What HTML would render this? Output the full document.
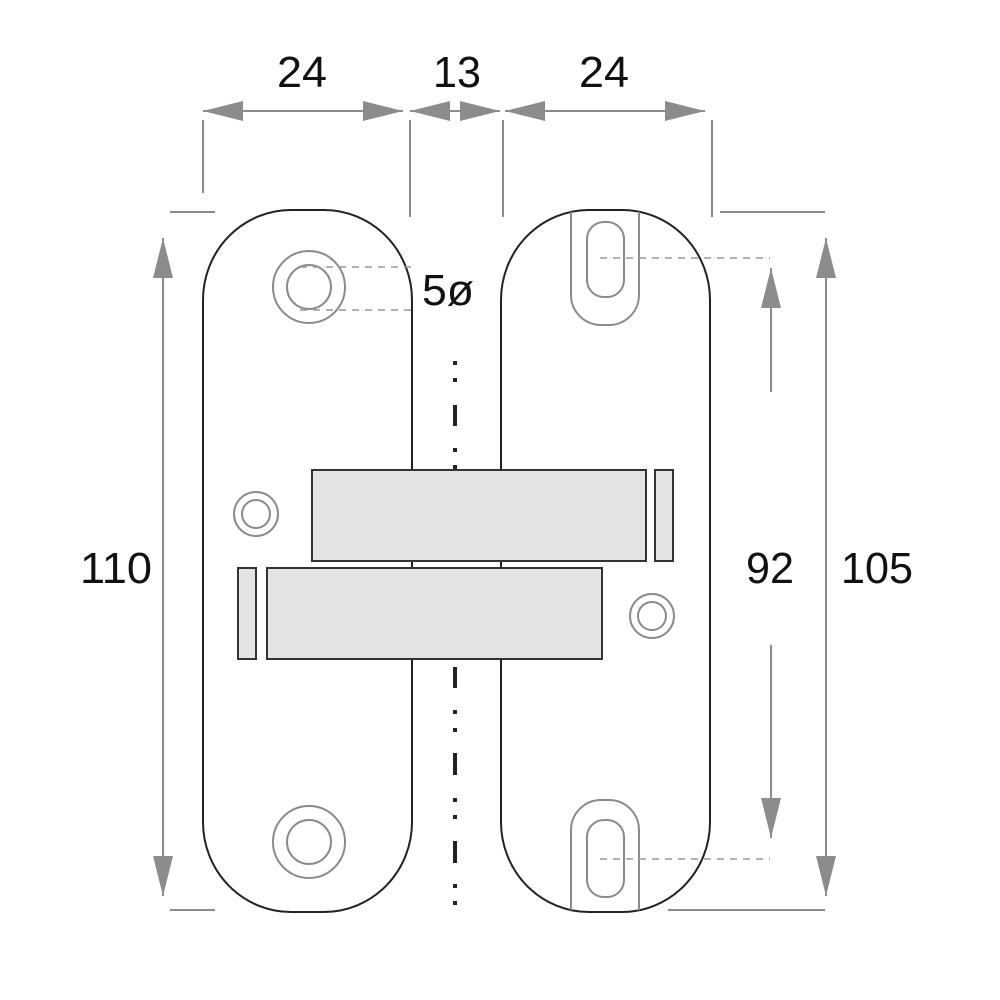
<!DOCTYPE html>
<html><head><meta charset="utf-8"><style>html,body{margin:0;padding:0;background:#fff}svg{display:block}</style></head>
<body>
<svg width="1000" height="1000" viewBox="0 0 1000 1000" xmlns="http://www.w3.org/2000/svg">
<defs>
<marker id="a" viewBox="0 0 40 20" refX="40" refY="10" markerWidth="40" markerHeight="20" markerUnits="userSpaceOnUse" orient="auto-start-reverse"><path d="M0,0 L40,10 L0,20 Z" fill="#8c8c8c"/></marker>
<clipPath id="rp"><path d="M501,300 A88,90 0 0 1 589,210 L622,210 A88,90 0 0 1 710,300 L710,822 A88,90 0 0 1 622,912 L589,912 A88,90 0 0 1 501,822 Z"/></clipPath>
</defs>
<g font-family="Liberation Sans, sans-serif" font-size="44" fill="#111" text-anchor="middle">
<text x="302" y="87" textLength="50" lengthAdjust="spacingAndGlyphs">24</text>
<text x="457" y="87" textLength="48" lengthAdjust="spacingAndGlyphs">13</text>
<text x="604" y="87" textLength="50" lengthAdjust="spacingAndGlyphs">24</text>
<text x="116" y="583" textLength="72" lengthAdjust="spacingAndGlyphs">110</text>
<text x="770" y="583" textLength="48" lengthAdjust="spacingAndGlyphs">92</text>
<text x="877" y="583" textLength="72" lengthAdjust="spacingAndGlyphs">105</text>
<text x="448" y="305" textLength="52" lengthAdjust="spacingAndGlyphs">5ø</text>
</g>
<g stroke="#8c8c8c" stroke-width="2" fill="none">
<line x1="203" y1="111" x2="403" y2="111" marker-start="url(#a)" marker-end="url(#a)"/>
<line x1="410" y1="111" x2="500" y2="111" marker-start="url(#a)" marker-end="url(#a)"/>
<line x1="505" y1="111" x2="705" y2="111" marker-start="url(#a)" marker-end="url(#a)"/>
<line x1="203" y1="120" x2="203" y2="193"/>
<line x1="410" y1="120" x2="410" y2="217"/>
<line x1="503" y1="120" x2="503" y2="217"/>
<line x1="712" y1="120" x2="712" y2="217"/>
<line x1="170" y1="212" x2="215" y2="212"/>
<line x1="170" y1="910" x2="215" y2="910"/>
<line x1="163" y1="238" x2="163" y2="896" marker-start="url(#a)" marker-end="url(#a)"/>
<line x1="720" y1="212" x2="825" y2="212"/>
<line x1="668" y1="910" x2="825" y2="910"/>
<line x1="826" y1="238" x2="826" y2="896" marker-start="url(#a)" marker-end="url(#a)"/>
<line x1="771" y1="268" x2="771" y2="392" marker-start="url(#a)"/>
<line x1="771" y1="645" x2="771" y2="838" marker-end="url(#a)"/>
</g>
<g stroke="#222" stroke-width="2" fill="#fff">
<path d="M203,300 A88,90 0 0 1 291,210 L324,210 A88,90 0 0 1 412,300 L412,822 A88,90 0 0 1 324,912 L291,912 A88,90 0 0 1 203,822 Z"/>
<path d="M501,300 A88,90 0 0 1 589,210 L622,210 A88,90 0 0 1 710,300 L710,822 A88,90 0 0 1 622,912 L589,912 A88,90 0 0 1 501,822 Z"/>
</g>
<g stroke="#8a8a8a" stroke-width="2" fill="none">
<circle cx="309" cy="287" r="36"/><circle cx="309" cy="287" r="22"/>
<circle cx="309" cy="842" r="36"/><circle cx="309" cy="842" r="22"/>
<circle cx="256" cy="514" r="22"/><circle cx="256" cy="514" r="14"/>
<circle cx="652" cy="616" r="22"/><circle cx="652" cy="616" r="14"/>
<g clip-path="url(#rp)">
<path d="M571,205 L639,205 L639,295 A30,30 0 0 1 609,325 L601,325 A30,30 0 0 1 571,295 Z"/>
<path d="M571,918 L639,918 L639,830 A30,30 0 0 0 609,800 L601,800 A30,30 0 0 0 571,830 Z"/>
</g>
<rect x="587" y="222" width="37" height="75" rx="17"/>
<rect x="587" y="820" width="37" height="77" rx="17"/>
</g>
<g stroke="#999" stroke-width="1.5" stroke-dasharray="7,6" fill="none">
<line x1="300" y1="267" x2="416" y2="267"/>
<line x1="300" y1="310" x2="416" y2="310"/>
<line x1="600" y1="258" x2="770" y2="258"/>
<line x1="600" y1="859" x2="770" y2="859"/>
</g>
<g fill="#222">
<rect x="453" y="361" width="4" height="4"/><rect x="453" y="378" width="4" height="4"/>
<rect x="453" y="405" width="4" height="21"/>
<rect x="453" y="448" width="4" height="4"/><rect x="453" y="465" width="4" height="4"/>
<rect x="453" y="667" width="4" height="21"/>
<rect x="453" y="710" width="4" height="4"/><rect x="453" y="728" width="4" height="4"/>
<rect x="453" y="753" width="4" height="22"/>
<rect x="453" y="798" width="4" height="4"/><rect x="453" y="815" width="4" height="4"/>
<rect x="453" y="841" width="4" height="22"/>
<rect x="453" y="884" width="4" height="4"/><rect x="453" y="901" width="4" height="4"/>
</g>
<g fill="#e3e3e3" stroke="#333" stroke-width="2">
<rect x="312" y="470" width="334" height="91"/>
<rect x="655" y="470" width="18" height="91"/>
<rect x="267" y="568" width="335" height="91"/>
<rect x="238" y="568" width="18" height="91"/>
</g>
</svg>
</body></html>
